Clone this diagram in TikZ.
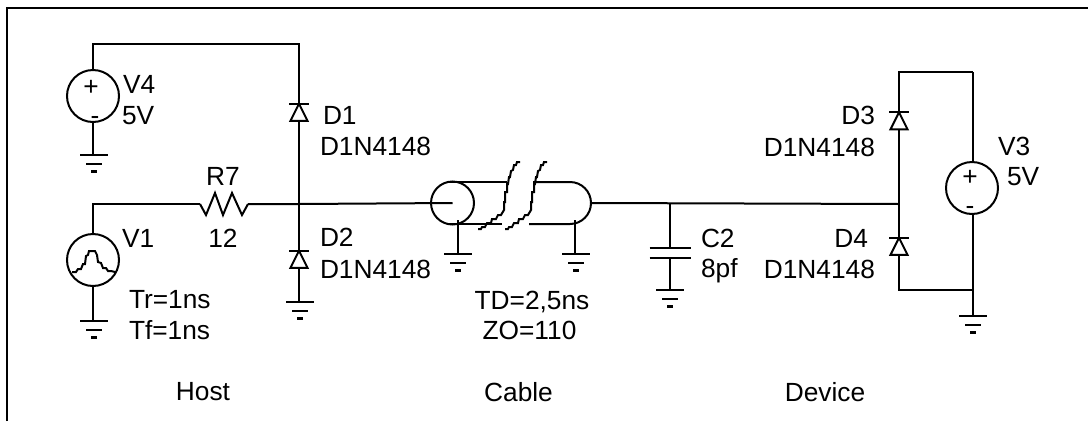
\documentclass[tikz,border=0pt]{standalone}
\usepackage{fontspec}
\setmainfont{Liberation Sans}
\usetikzlibrary{shapes.geometric, positioning, calc}

\begin{document}
\begin{tikzpicture}[
    x=1pt,
    y=-1pt,
    line width=2pt,
    source/.style={
        circle,
        draw,
        minimum size=52pt,
        inner sep=0pt,
        outer sep=0pt
    },
    diode/.style={
        isosceles triangle,
        isosceles triangle apex angle=60,
        isosceles triangle stretches,
        shape border rotate=90,
        draw,
        minimum width=17pt,
        minimum height=17pt,
        inner sep=0pt,
        outer sep=0pt
    },
    coaxend/.style={
        circle,
        draw,
        minimum size=43pt,
        inner sep=0pt,
        outer sep=0pt
    },
    label/.style={
        font=\fontsize{26.3}{26.3}\selectfont,
        text height=18.5pt,
        text depth=0pt,
        inner sep=0pt,
        outer sep=0pt
    },
    gnd/.pic={
        \draw (-14,0) -- (14,0) (-8,8.5) -- (8,8.5);
        \draw[line width=2.5pt] (-3,16.5) -- (3,16.5);
    },
    cablebreak/.pic={
        \draw (0,0) -- (-3,0) -- (-4,3) -- (-6,3) -- (-7,8) -- (-9,9) -- (-10,15) -- (-11,15) -- (-12,22) -- (-13,22) -- (-13,30)
            -- (-15,30) -- (-15,40) -- (-16,40) -- (-16,48) -- (-19,53) -- (-22,53) -- (-24,57) -- (-28,57) -- (-29,61) -- (-33,61) -- (-35,65) -- (-38,65) -- (-39,67) -- (-42,67);
    }
]

\useasboundingbox (0,0) rectangle (1088,421);

% Frame
\coordinate (framebl) at (7,421);
\coordinate (frametl) at (7,8);
\coordinate (frametr) at (1088,8);
\draw[line width=2.5pt] (framebl) -- (frametl) -- (frametr);

% Sources
\node[source] (v4) at (93,96) {};
\node[source] (v1) at (93,260) {};
\node[source] (v3) at (972,188) {};

% Diodes
\node[diode] (d1) at (299,115.5) {};
\node[diode] (d2) at (299,262.5) {};
\node[diode] (d3) at (899,124) {};
\node[diode] (d4) at (899,249.5) {};
\foreach \dname in {d1,d2,d3,d4}
    \draw ($(\dname.apex)+(-10,0)$) -- ($(\dname.apex)+(10,0)$);

% Resistor and capacitor
\coordinate (r7a) at (200,204);
\coordinate (r7b) at (248,204);
\draw (r7a) -- (206,215) -- (215,193) -- (223,215) -- (232,193) -- (242,215) -- (r7b);
\coordinate (c2a) at (670,248);
\coordinate (c2b) at (670,258);
\draw ($(c2a)+(-20.5,0)$) -- ($(c2a)+(20.5,0)$);
\draw ($(c2b)+(-20.5,0)$) -- ($(c2b)+(20.5,0)$);

% Cable
\node[coaxend] (coaxl) at (452.5,203) {};
\coordinate (coaxr) at (592,203);
\draw (450,182) -- (507,182);
\draw (450,224) -- (502,224);
\draw (533,182) -- (570,182) arc[start angle=90, end angle=-90, radius=21pt] -- (529,224);
\pic at (520,162) {cablebreak};
\pic at (547,162) {cablebreak};

% Junctions
\coordinate (top4) at (93,44);
\coordinate (top1) at (299,44);
\coordinate (in1) at (93,204);
\coordinate (hostj) at (299,204);
\coordinate (devj) at (899,204);
\coordinate (capj) at (670,204);
\coordinate (top3) at (899,72);
\coordinate (top5) at (973,72);
\coordinate (bot3) at (899,290);
\coordinate (bot5) at (973,290);

% Grounds
\coordinate (gv4) at (94,155);
\coordinate (gv1) at (94,321);
\coordinate (gd2) at (300,302);
\coordinate (gcl) at (458,254);
\coordinate (gcr) at (576,254);
\coordinate (gc2) at (670,290);
\coordinate (gv3) at (973,316);
\foreach \gname in {gv4,gv1,gd2,gcl,gcr,gc2,gv3}
    \pic at (\gname) {gnd};

% Wires
\draw (v4.north) -- (top4) -- (top1) -- (d1.apex);
\draw (d1.south) -- (d2.apex);
\draw (d2.south) -- (d2.south |- gd2);
\draw (v4.south) -- (v4.south |- gv4);
\draw (v1.north) -- (in1) -- (r7a);
\draw (v1.south) -- (v1.south |- gv1);
\draw (r7b) -- (hostj) -- (coaxl.center);
\draw (coaxr) -- (devj);
\draw (capj) -- (c2a);
\draw (c2b) -- (gc2);
\draw (457.5,220) -- (457.5,254);
\draw (575,220) -- (575,254);
\draw (top5) -- (top3) -- (d3.apex);
\draw (d3.south) -- (d4.apex);
\draw (d4.south) -- (bot3) -- (bot5);
\draw (top5) -- (top5 |- v3.north);
\draw (top5 |- v3.south) -- (gv3);

% Pulse
\draw (72,272) -- (76,272) -- (78,269) -- (81,269) -- (83,264) -- (85,264) -- (86,256) -- (88,255) -- (89,251) -- (95,251)
    -- (97,255) -- (98,262) -- (101,263) -- (103,268) -- (106,268) -- (108,271) -- (111,271) -- (115,272);

% Polarity
\node[label] (v4plus) at (91,86) {+};
\node[label] (v4minus) at (95,115) {-};
\node[label] (v3plus) at (970,176) {+};
\node[label] (v3minus) at (970,205) {-};

% Labels
\node[label, anchor=west] (v4name) at (123,84) {V4};
\node[label, anchor=west] (v4val) at (122,115) {5V};
\node[label, anchor=west] (v1name) at (122,238) {V1};
\node[label, anchor=west] (v1tr) at (129,299) {Tr=1ns};
\node[label, anchor=west] (v1tf) at (129,330) {Tf=1ns};
\node[label] (r7name) at (223,176) {R7};
\node[label] (r7val) at (223,238) {12};
\node[label, anchor=west] (d1name) at (323,115) {D1};
\node[label, anchor=west] (d1val) at (320,146) {D1N4148};
\node[label, anchor=west] (d2name) at (320,237) {D2};
\node[label, anchor=west] (d2val) at (320,269) {D1N4148};
\node[label] (cabtd) at (532,300) {TD=2,5ns};
\node[label] (cabzo) at (529.5,330) {ZO=110};
\node[label, anchor=west] (c2name) at (701,238) {C2};
\node[label, anchor=west] (c2val) at (701,268) {8pf};
\node[label, anchor=east] (d3name) at (875,115) {D3};
\node[label, anchor=east] (d3val) at (875,147) {D1N4148};
\node[label, anchor=east] (d4name) at (868,238) {D4};
\node[label, anchor=east] (d4val) at (875,269) {D1N4148};
\node[label, anchor=west] (v3name) at (998,146) {V3};
\node[label, anchor=west] (v3val) at (1007,176) {5V};

% Sections
\node[label] (host) at (203,391) {Host};
\node[label] (cable) at (518.5,392) {Cable};
\node[label] (device) at (825,392) {Device};

\end{tikzpicture}
\end{document}
